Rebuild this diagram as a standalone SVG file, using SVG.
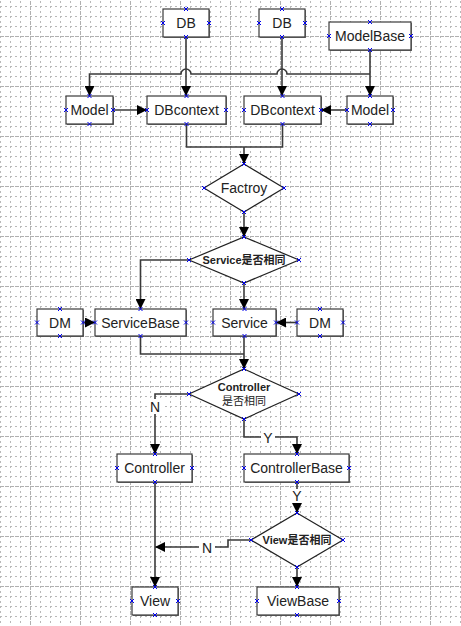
<svg xmlns="http://www.w3.org/2000/svg" xmlns:xlink="http://www.w3.org/1999/xlink" width="461" height="626" viewBox="0 0 461 626">
<style>
.box{fill:#fff;stroke:#3a3a3a;stroke-width:1.2}
.sh{fill:#777}
.dia{fill:#fff;stroke:#222;stroke-width:1.2}
.t{font-family:"Liberation Sans",Arial,sans-serif;font-size:14px;fill:#222;text-anchor:middle}
.ts{font-family:"Liberation Sans","Noto Sans CJK SC",sans-serif;font-size:11px;fill:#222;text-anchor:middle}
.b{font-weight:bold}
.c{fill:none;stroke:#3a3a3a;stroke-width:1.6}
.lb{fill:#fff}
.px{fill:none;stroke:#0000ee;stroke-width:1}
.gmin{stroke:#b8b8b8;stroke-width:1;stroke-dasharray:2,3}
.gmaj{stroke:#b0b0b0;stroke-width:1;stroke-dasharray:4,1}
</style>
<defs>
<pattern id="grid" patternUnits="userSpaceOnUse" x="30" y="36" width="50" height="50">
<line class="gmin" x1="10.5" y1="0" x2="10.5" y2="50"/>
<line class="gmin" x1="20.5" y1="0" x2="20.5" y2="50"/>
<line class="gmin" x1="30.5" y1="0" x2="30.5" y2="50"/>
<line class="gmin" x1="40.5" y1="0" x2="40.5" y2="50"/>
<line class="gmin" x1="0" y1="10.5" x2="50" y2="10.5"/>
<line class="gmin" x1="0" y1="20.5" x2="50" y2="20.5"/>
<line class="gmin" x1="0" y1="30.5" x2="50" y2="30.5"/>
<line class="gmin" x1="0" y1="40.5" x2="50" y2="40.5"/>
<line class="gmaj" x1="0.5" y1="0" x2="0.5" y2="50"/>
<line class="gmaj" x1="0" y1="0.5" x2="50" y2="0.5"/>
</pattern>
<marker id="ah" markerUnits="userSpaceOnUse" markerWidth="10" markerHeight="10" refX="10" refY="5" orient="auto" viewBox="0 0 10 10">
<path d="M0,0 L10,5 L0,10 z" fill="#000"/>
</marker>
<path id="x" class="px" d="M-2,-2 L2,2 M2,-2 L-2,2"/>
</defs>
<rect width="461" height="626" fill="#fff"/>
<rect width="461" height="626" fill="url(#grid)"/>

<g id="connectors">
<path class="c" d="M186,37 V96" marker-end="url(#ah)"/>
<path class="c" d="M282,37 V96" marker-end="url(#ah)"/>
<path class="c" d="M370,50 V96" marker-end="url(#ah)"/>
<path class="c" d="M370,74 H287 A5,5 0 0 0 277,74 H191 A5,5 0 0 0 181,74 H89.5 V96" marker-end="url(#ah)"/>
<path class="c" d="M113,110 H147" marker-end="url(#ah)"/>
<path class="c" d="M347,110 H321" marker-end="url(#ah)"/>
<path class="c" d="M186.5,124 V147 H282.5 V124"/>
<path class="c" d="M244,147 V164" marker-end="url(#ah)"/>
<path class="c" d="M244,212 V237" marker-end="url(#ah)"/>
<path class="c" d="M189,260 H140.5 V309" marker-end="url(#ah)"/>
<path class="c" d="M244,283 V309" marker-end="url(#ah)"/>
<path class="c" d="M83,322.5 H95" marker-end="url(#ah)"/>
<path class="c" d="M297,322.5 H276" marker-end="url(#ah)"/>
<path class="c" d="M140.5,336 V354 H244"/>
<path class="c" d="M244,336 V369" marker-end="url(#ah)"/>
<path class="c" d="M189,394 H155 V454" marker-end="url(#ah)"/>
<path class="c" d="M244,419 V437 H297 V454" marker-end="url(#ah)"/>
<path class="c" d="M297,482 V513" marker-end="url(#ah)"/>
<path class="c" d="M251,540 H228 V547 H155" marker-end="url(#ah)"/>
<path class="c" d="M155,482 V587" marker-end="url(#ah)"/>
<path class="c" d="M297,567 V587" marker-end="url(#ah)"/>
<rect class="lb" x="148" y="399" width="14" height="15"/>
<text class="t" x="155" y="412">N</text>
<rect class="lb" x="261" y="430" width="14" height="15"/>
<text class="t" x="268" y="443">Y</text>
<rect class="lb" x="290" y="489" width="14" height="14"/>
<text class="t" x="297" y="501">Y</text>
<rect class="lb" x="199" y="540" width="16" height="15"/>
<text class="t" x="207" y="553">N</text>
</g>

<g id="db1">
<rect class="sh" x="164" y="10" width="46" height="28"/>
<rect class="box" x="163" y="9" width="46" height="28"/>
<text class="t" x="186" y="28">DB</text>
<use href="#x" x="186" y="9"/><use href="#x" x="186" y="37"/><use href="#x" x="163" y="23"/><use href="#x" x="209" y="23"/>
</g>
<g id="db2">
<rect class="sh" x="260" y="10" width="46" height="28"/>
<rect class="box" x="259" y="9" width="46" height="28"/>
<text class="t" x="282" y="28">DB</text>
<use href="#x" x="282" y="9"/><use href="#x" x="282" y="37"/><use href="#x" x="259" y="23"/><use href="#x" x="305" y="23"/>
</g>
<g id="modelbase">
<rect class="sh" x="330" y="23" width="82" height="28"/>
<rect class="box" x="329" y="22" width="82" height="28"/>
<text class="t" x="370" y="41">ModelBase</text>
<use href="#x" x="370" y="22"/><use href="#x" x="370" y="50"/><use href="#x" x="329" y="36"/><use href="#x" x="411" y="36"/>
</g>
<g id="model-left">
<rect class="sh" x="67" y="97" width="47" height="28"/>
<rect class="box" x="66" y="96" width="47" height="28"/>
<text class="t" x="89.5" y="115">Model</text>
<use href="#x" x="89.5" y="96"/><use href="#x" x="89.5" y="124"/><use href="#x" x="66" y="110"/><use href="#x" x="113" y="110"/>
</g>
<g id="dbcontext-left">
<rect class="sh" x="148" y="97" width="79" height="28"/>
<rect class="box" x="147" y="96" width="79" height="28"/>
<text class="t" x="186.5" y="115">DBcontext</text>
<use href="#x" x="186.5" y="96"/><use href="#x" x="186.5" y="124"/><use href="#x" x="147" y="110"/><use href="#x" x="226" y="110"/>
</g>
<g id="dbcontext-right">
<rect class="sh" x="245" y="97" width="77" height="28"/>
<rect class="box" x="244" y="96" width="77" height="28"/>
<text class="t" x="282.5" y="115">DBcontext</text>
<use href="#x" x="282.5" y="96"/><use href="#x" x="282.5" y="124"/><use href="#x" x="244" y="110"/><use href="#x" x="321" y="110"/>
</g>
<g id="model-right">
<rect class="sh" x="348" y="97" width="46" height="28"/>
<rect class="box" x="347" y="96" width="46" height="28"/>
<text class="t" x="370" y="115">Model</text>
<use href="#x" x="370" y="96"/><use href="#x" x="370" y="124"/><use href="#x" x="347" y="110"/><use href="#x" x="393" y="110"/>
</g>
<g id="factroy">
<polygon class="dia" points="244,164 284,188 244,212 204,188"/>
<text class="t" x="244" y="193">Factroy</text>
<use href="#x" x="244" y="164"/><use href="#x" x="284" y="188"/><use href="#x" x="244" y="212"/><use href="#x" x="204" y="188"/>
</g>
<g id="service-decision">
<polygon class="dia" points="244,237 299,260 244,283 189,260"/>
<text class="ts b" x="244" y="264">Service是否相同</text>
<use href="#x" x="244" y="237"/><use href="#x" x="299" y="260"/><use href="#x" x="244" y="283"/><use href="#x" x="189" y="260"/>
</g>
<g id="dm-left">
<rect class="sh" x="38" y="310" width="46" height="27"/>
<rect class="box" x="37" y="309" width="46" height="27"/>
<text class="t" x="60" y="327.5">DM</text>
<use href="#x" x="60" y="309"/><use href="#x" x="60" y="336"/><use href="#x" x="37" y="322.5"/><use href="#x" x="83" y="322.5"/>
</g>
<g id="servicebase">
<rect class="sh" x="96" y="310" width="91" height="27"/>
<rect class="box" x="95" y="309" width="91" height="27"/>
<text class="t" x="140.5" y="327.5">ServiceBase</text>
<use href="#x" x="140.5" y="309"/><use href="#x" x="140.5" y="336"/><use href="#x" x="95" y="322.5"/><use href="#x" x="186" y="322.5"/>
</g>
<g id="service">
<rect class="sh" x="214" y="310" width="63" height="27"/>
<rect class="box" x="213" y="309" width="63" height="27"/>
<text class="t" x="244.5" y="327.5">Service</text>
<use href="#x" x="244.5" y="309"/><use href="#x" x="244.5" y="336"/><use href="#x" x="213" y="322.5"/><use href="#x" x="276" y="322.5"/>
</g>
<g id="dm-right">
<rect class="sh" x="298" y="310" width="46" height="27"/>
<rect class="box" x="297" y="309" width="46" height="27"/>
<text class="t" x="320" y="327.5">DM</text>
<use href="#x" x="320" y="309"/><use href="#x" x="320" y="336"/><use href="#x" x="297" y="322.5"/><use href="#x" x="343" y="322.5"/>
</g>
<g id="controller-decision">
<polygon class="dia" points="244,369 299,394 244,419 189,394"/>
<text class="ts b" x="244" y="391">Controller</text>
<text class="ts" x="244" y="405">是否相同</text>
<use href="#x" x="244" y="369"/><use href="#x" x="299" y="394"/><use href="#x" x="244" y="419"/><use href="#x" x="189" y="394"/>
</g>
<g id="controller">
<rect class="sh" x="118" y="455" width="75" height="28"/>
<rect class="box" x="117" y="454" width="75" height="28"/>
<text class="t" x="154.5" y="473">Controller</text>
<use href="#x" x="155" y="454"/><use href="#x" x="155" y="482"/><use href="#x" x="117" y="468"/><use href="#x" x="192" y="468"/>
</g>
<g id="controllerbase">
<rect class="sh" x="245" y="455" width="105" height="28"/>
<rect class="box" x="244" y="454" width="105" height="28"/>
<text class="t" x="296.5" y="473">ControllerBase</text>
<use href="#x" x="297" y="454"/><use href="#x" x="297" y="482"/><use href="#x" x="244" y="468"/><use href="#x" x="349" y="468"/>
</g>
<g id="view-decision">
<polygon class="dia" points="297,513 343,540 297,567 251,540"/>
<text class="ts b" x="297" y="544">View是否相同</text>
<use href="#x" x="297" y="513"/><use href="#x" x="343" y="540"/><use href="#x" x="297" y="567"/><use href="#x" x="251" y="540"/>
</g>
<g id="view">
<rect class="sh" x="133" y="588" width="46" height="28"/>
<rect class="box" x="132" y="587" width="46" height="28"/>
<text class="t" x="155" y="606">View</text>
<use href="#x" x="155" y="587"/><use href="#x" x="155" y="615"/><use href="#x" x="132" y="601"/><use href="#x" x="178" y="601"/>
</g>
<g id="viewbase">
<rect class="sh" x="258" y="588" width="82" height="28"/>
<rect class="box" x="257" y="587" width="82" height="28"/>
<text class="t" x="298" y="606">ViewBase</text>
<use href="#x" x="297" y="587"/><use href="#x" x="297" y="615"/><use href="#x" x="257" y="601"/><use href="#x" x="339" y="601"/>
</g>
</svg>
